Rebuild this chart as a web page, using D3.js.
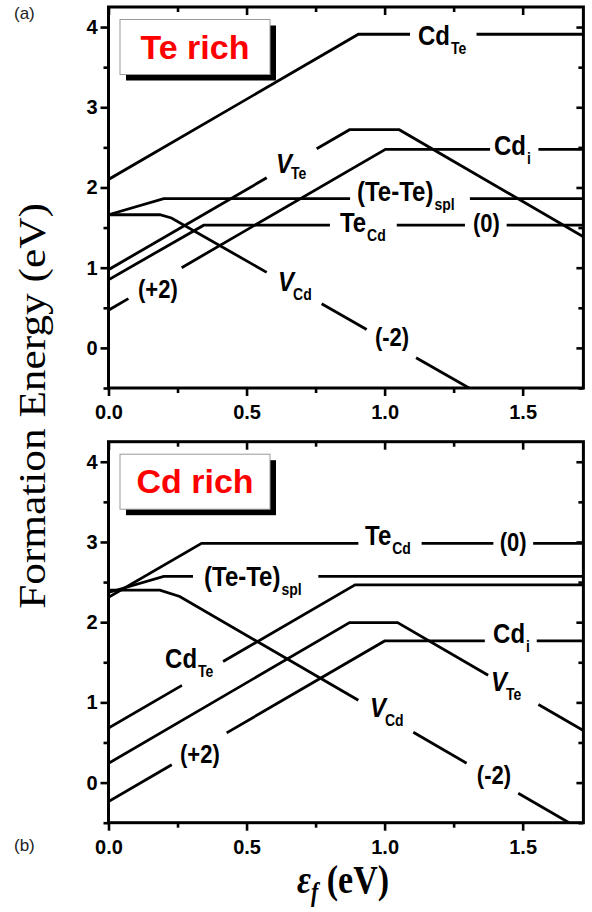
<!DOCTYPE html>
<html>
<head>
<meta charset="utf-8">
<script src="https://cdn.jsdelivr.net/npm/d3@7"></script>
<style>
  body { margin: 0; background: #fff; }
</style>
</head>
<body>
<svg id="chart" width="592" height="912"></svg>
<script>
"use strict";

// ---- axis ticks
const xTicks = [0, 0.5, 1.0, 1.5],
  xMinor = [0.25, 0.75, 1.25],
  yTicks = [0, 1, 2, 3, 4],
  yMinor = [-0.5, 0.5, 1.5, 2.5, 3.5];

// ---- Te rich: formation energy vs fermi level, [eF, E] vertices
const teCdTe = [[0, 2.10], [0.905, 3.91], [1.72, 3.91]],
  teVTe = [[0, 0.975], [0.873, 2.72], [1.053, 2.72], [1.72, 1.386]],
  teCdi = [[0, 0.47], [1.003, 2.476], [1.72, 2.476]],
  teTeTe = [[0, 1.66], [0.2, 1.86], [1.72, 1.86]],
  teTeCd = [[0, 0.85], [0.345, 1.53], [1.72, 1.53]],
  teVCd = [[0, 1.66], [0.186, 1.66], [0.228, 1.62], [1.306, -0.5]];

// ---- Cd rich
const cdTeCd = [[0, 2.31], [0.337, 2.983], [1.72, 2.983]],
  cdTeTe = [[0, 2.37], [0.2, 2.57], [1.72, 2.57]],
  cdCdTe = [[0, 0.68], [0.893, 2.465], [1.72, 2.465]],
  cdVTe = [[0, 0.24], [0.873, 1.994], [1.047, 1.994], [1.72, 0.648]],
  cdCdi = [[0, -0.237], [1.0, 1.766], [1.72, 1.766]],
  cdVCd = [[0, 2.40], [0.186, 2.40], [0.258, 2.32], [1.668, -0.5]];

// gaps in the lines where the labels sit (eF ranges)
const teGaps = {
  CdTe: [[1.092, 1.333]],
  VTe: [[0.573, 0.754]],
  Cdi: [[0.072, 0.265], [1.382, 1.557]],
  TeTe: [[0.875, 1.309]],
  TeCd: [[0.802, 1.044], [1.291, 1.442]],
  VCd: [[0.573, 0.772], [0.935, 1.114]]
};
const cdGaps = {
  TeCd: [[0.905, 1.134], [1.394, 1.538]],
  TeTe: [[0.306, 0.760]],
  CdTe: [[0.266, 0.415]],
  VTe: [[1.375, 1.557]],
  Cdi: [[0.229, 0.428], [1.363, 1.551]],
  VCd: [[0.905, 1.104], [1.297, 1.484]]
};

// label texts and anchors (eF, E of the baseline start)
const teLabels = [
  { main: "Cd", sub: "Te", e: 1.121, E: 3.776 },
  { main: "V", sub: "Te", e: 0.607, E: 2.18, it: true, dy: 5 },
  { main: "Cd", sub: "i", e: 1.396, E: 2.405 },
  { main: "(Te-Te)", sub: "spl", e: 0.90, E: 1.831 },
  { main: "Te", sub: "Cd", e: 0.838, E: 1.445 },
  { main: "(0)", e: 1.320, E: 1.445, q: true },
  { main: "V", sub: "Cd", e: 0.614, E: 0.709, it: true },
  { main: "(-2)", e: 0.965, E: 0.024, q: true },
  { main: "(+2)", e: 0.107, E: 0.622, q: true }
];
const cdLabels = [
  { main: "(Te-Te)", sub: "spl", e: 0.346, E: 2.451 },
  { main: "Te", sub: "Cd", e: 0.929, E: 2.962 },
  { main: "(0)", e: 1.417, E: 2.887, q: true },
  { main: "Cd", sub: "Te", e: 0.205, E: 1.429 },
  { main: "V", sub: "Te", e: 1.385, E: 1.143, it: true },
  { main: "Cd", sub: "i", e: 1.393, E: 1.741 },
  { main: "V", sub: "Cd", e: 0.947, E: 0.818, it: true },
  { main: "(-2)", e: 1.334, E: -0.017, q: true },
  { main: "(+2)", e: 0.259, E: 0.246, q: true }
];

const SANS = "'Liberation Sans', Arial, Helvetica, sans-serif",
  SERIF = "'Liberation Serif', 'Times New Roman', serif",
  SY = 1.15; // glyphs in the picture are a bit taller than wide

const panels = [
  {
    id: "a", top: 7, bottom: 388, title: "Te rich",
    lines: [[teCdTe, teGaps.CdTe], [teVTe, teGaps.VTe], [teCdi, teGaps.Cdi],
      [teTeTe, teGaps.TeTe], [teTeCd, teGaps.TeCd], [teVCd, teGaps.VCd]],
    labels: teLabels
  },
  {
    id: "b", top: 441.7, bottom: 822.7, title: "Cd rich",
    lines: [[cdTeCd, cdGaps.TeCd], [cdTeTe, cdGaps.TeTe], [cdCdTe, cdGaps.CdTe],
      [cdVTe, cdGaps.VTe], [cdCdi, cdGaps.Cdi], [cdVCd, cdGaps.VCd]],
    labels: cdLabels
  }
];

const svg = d3.select("#chart");
const x = d3.scaleLinear().domain([0, 1.72]).range([108.5, 583.4]);

function interp(pts, e) {
  for (let i = 0; i < pts.length - 1; i++) {
    let a = pts[i], b = pts[i + 1];
    if (e >= a[0] && e <= b[0]) return a[1] + (b[1] - a[1]) * (e - a[0]) / (b[0] - a[0]);
  }
  return pts[pts.length - 1][1];
}

// split a polyline into visible pieces, leaving out the label gaps
function pieces(pts, gaps) {
  let out = [], start = pts[0][0], end = pts[pts.length - 1][0];
  let ranges = [];
  gaps.slice().sort((a, b) => a[0] - b[0]).forEach(g => {
    ranges.push([start, g[0]]);
    start = g[1];
  });
  ranges.push([start, end]);
  ranges.forEach(([a, b]) => {
    let seg = [[a, interp(pts, a)]];
    pts.forEach(p => { if (p[0] > a && p[0] < b) seg.push(p); });
    seg.push([b, interp(pts, b)]);
    out.push(seg);
  });
  return out;
}

panels.forEach(function(p, pi) {
  const y = d3.scaleLinear().domain([-0.5, 4.25]).range([p.bottom, p.top]);
  const g = svg.append("g").attr("class", "panel-" + p.id);

  g.append("clipPath").attr("id", "clip-" + p.id)
    .append("rect")
    .attr("x", x(0)).attr("y", y(4.25))
    .attr("width", x(1.72) - x(0)).attr("height", y(-0.5) - y(4.25));

  // axes: outward ticks bottom/left, inward mirror ticks top/right
  const axes = [
    [d3.axisBottom(x).tickValues(xTicks).tickFormat(d3.format(".1f")).tickSize(8).tickPadding(9), "translate(0," + y(-0.5) + ")"],
    [d3.axisBottom(x).tickValues(xMinor).tickFormat("").tickSize(5), "translate(0," + y(-0.5) + ")"],
    [d3.axisLeft(y).tickValues(yTicks).tickFormat(d3.format("d")).tickSize(8).tickPadding(3), "translate(" + x(0) + ",0)"],
    [d3.axisLeft(y).tickValues(yMinor).tickFormat("").tickSize(5), "translate(" + x(0) + ",0)"],
    [d3.axisTop(x).tickValues(xTicks).tickFormat("").tickSize(-8), "translate(0," + y(4.25) + ")"],
    [d3.axisTop(x).tickValues(xMinor).tickFormat("").tickSize(-5), "translate(0," + y(4.25) + ")"],
    [d3.axisRight(y).tickValues(yTicks).tickFormat("").tickSize(-7), "translate(" + x(1.72) + ",0)"],
    [d3.axisRight(y).tickValues(yMinor).tickFormat("").tickSize(-5), "translate(" + x(1.72) + ",0)"]
  ];
  axes.forEach(function(a) {
    const ag = g.append("g").attr("transform", a[1]).call(a[0]);
    ag.select(".domain").remove();
    ag.selectAll("line").attr("stroke", "#000").attr("stroke-width", 2.6);
    ag.selectAll("text").attr("font-family", SANS).attr("font-weight", "bold")
      .attr("font-size", 20).attr("fill", "#000");
  });

  // defect lines
  const lineGen = d3.line().x(d => x(d[0])).y(d => y(d[1]));
  const dg = g.append("g").attr("clip-path", "url(#clip-" + p.id + ")");
  p.lines.forEach(function(l) {
    dg.selectAll(null)
      .data(pieces(l[0], l[1]))
      .enter()
      .append("path")
      .attr("d", lineGen)
      .attr("fill", "none")
      .attr("stroke", "#000")
      .attr("stroke-width", 2.8)
      .attr("stroke-linejoin", "miter");
  });

  // frame
  g.append("rect")
    .attr("x", x(0)).attr("y", y(4.25))
    .attr("width", x(1.72) - x(0)).attr("height", y(-0.5) - y(4.25))
    .attr("fill", "none").attr("stroke", "#000").attr("stroke-width", 3);

  // line labels
  p.labels.forEach(function(d) {
    const t = g.append("text")
      .attr("transform", "translate(" + x(d.e) + "," + y(d.E) + ") scale(1," + SY + ")")
      .attr("font-family", SANS).attr("font-weight", "bold")
      .attr("font-size", d.q ? 22 : 24).attr("fill", "#000");
    t.append("tspan").attr("font-style", d.it ? "italic" : null).text(d.main);
    if (d.sub) {
      t.append("tspan").attr("font-size", 14).attr("font-style", "normal")
        .attr("dx", d.it ? -1 : 1).attr("dy", d.dy || 8).text(d.sub);
    }
  });

  // legend box with shadow
  const bx = 120, bw = 150, by = p.top + 12.5, bh = 55;
  g.append("rect").attr("x", bx + 6).attr("y", by + 6).attr("width", bw).attr("height", bh).attr("fill", "#000");
  g.append("rect").attr("x", bx).attr("y", by).attr("width", bw).attr("height", bh)
    .attr("fill", "#fff").attr("stroke", "#999").attr("stroke-width", 1);
  g.append("text")
    .attr("x", bx + bw / 2).attr("y", by + 39)
    .attr("text-anchor", "middle")
    .attr("font-family", SANS).attr("font-weight", "bold").attr("font-size", 34)
    .attr("fill", "#f00")
    .text(p.title);
});

// panel tags
svg.append("text").attr("x", 14).attr("y", 19).attr("font-family", SANS)
  .attr("font-size", 17).attr("fill", "#222").text("(a)");
svg.append("text").attr("x", 14).attr("y", 851).attr("font-family", SANS)
  .attr("font-size", 17).attr("fill", "#222").text("(b)");

// y title
svg.append("text")
  .attr("transform", "translate(45,406) scale(1,1.14) rotate(-90)")
  .attr("text-anchor", "middle")
  .attr("font-family", SERIF).attr("font-size", 38).attr("fill", "#000")
  .text("Formation Energy (eV)");

// x title
const xt = svg.append("text")
  .attr("transform", "translate(343,893) scale(1,1.2)")
  .attr("text-anchor", "middle")
  .attr("font-family", SERIF).attr("font-weight", "bold").attr("font-size", 34).attr("fill", "#000");
xt.append("tspan").attr("font-style", "italic").text("\u03b5");
xt.append("tspan").attr("font-style", "italic").attr("font-size", 22).attr("dy", 7).text("f");
xt.append("tspan").attr("dy", -7).text(" (eV)");
</script>
</body>
</html>
